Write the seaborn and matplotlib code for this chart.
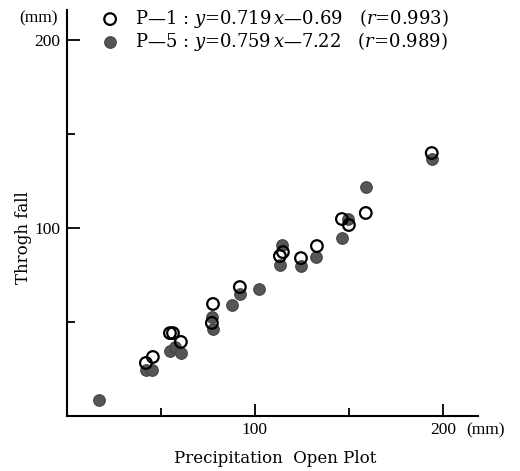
import pandas as pd
import seaborn as sns
import matplotlib.pyplot as plt

# P-1 (open circles)
p1_open = [42.0, 45.7, 54.8, 56.4, 60.6, 77.7, 77.1, 92.0, 114.9, 113.3,
           124.5, 133.0, 146.3, 150.0, 159.0, 194.1]
p1_through = [28.2, 31.4, 44.1, 44.1, 39.4, 59.6, 49.5, 68.6, 87.2, 85.1,
              84.0, 90.4, 104.8, 101.6, 108.0, 139.9]

# P-5 (filled circles)
p5_open = [17.0, 42.0, 45.2, 54.8, 57.4, 60.6, 77.1, 77.7, 87.8, 92.0,
           102.1, 114.4, 113.3, 124.5, 132.4, 149.5, 146.3, 159.0, 194.1]
p5_through = [8.5, 24.5, 24.5, 34.6, 36.7, 33.5, 52.7, 46.3, 59.0, 64.9,
              67.6, 91.0, 80.3, 79.8, 84.6, 104.8, 94.7, 121.8, 136.7]

labels = [r"P—1 : $y$=0.719$\,x$—0.69   ($r$=0.993)",
          r"P—5 : $y$=0.759$\,x$—7.22   ($r$=0.989)"]

major_ticks = [100, 200]
minor_ticks = [50, 150]

sns.set_style("white")
plt.rcParams["font.family"] = ["DejaVu Serif"]
plt.rcParams["mathtext.fontset"] = "dejavuserif"
plt.rcParams["text.color"] = "black"
plt.rcParams["axes.labelcolor"] = "black"
num_font = "Liberation Serif"

p1_df = pd.DataFrame({"open": p1_open, "through": p1_through})
p5_df = pd.DataFrame({"open": p5_open, "through": p5_through})

fig = plt.figure(figsize=(5.2, 4.71), dpi=100)
ax = fig.add_axes([0.1288, 0.1168, 0.790, 0.862])

sns.scatterplot(data=p5_df, x="open", y="through", ax=ax, s=70,
                color="#555555", edgecolor="#444444", linewidth=0.8,
                label=labels[1], zorder=3)
sns.scatterplot(data=p1_df, x="open", y="through", ax=ax, s=70,
                facecolor="none", edgecolor="black", linewidth=1.6,
                label=labels[0], zorder=4)

ax.set_xlim(0, 218.6)
ax.set_ylim(0, 216)
for side in ["top", "right"]:
    ax.spines[side].set_visible(False)
for side in ["left", "bottom"]:
    ax.spines[side].set_color("black")
    ax.spines[side].set_linewidth(1.5)

ax.set_xticks(major_ticks)
ax.set_yticks(major_ticks)
ax.set_xticks(minor_ticks, minor=True)
ax.set_yticks(minor_ticks, minor=True)
ax.tick_params(which="both", bottom=True, left=True, direction="in",
               width=1.3, colors="black")
ax.tick_params(which="major", length=9, pad=4)
ax.tick_params(which="minor", length=6)
ax.tick_params(axis="y", which="major", pad=5)
for lbl in ax.get_xticklabels() + ax.get_yticklabels():
    lbl.set_fontfamily(num_font)
    lbl.set_fontsize(12.5)

ax.set_xlabel("Precipitation  Open Plot", fontsize=12)
ax.set_ylabel("Throgh fall", fontsize=12)
ax.xaxis.set_label_coords(0.506, -0.085)
ax.yaxis.set_label_coords(-0.086, 0.44)
ax.text(0.973, -0.0345, "(mm)", transform=ax.transAxes, fontsize=12.5,
        family=num_font, ha="left", va="center")
ax.text(-0.022, 0.98, "(mm)", transform=ax.transAxes, fontsize=12.5,
        family=num_font, ha="right", va="center")

handles, _ = ax.get_legend_handles_labels()
ax.legend([handles[1], handles[0]], labels, loc="upper left",
          bbox_to_anchor=(0.164, 1.02), bbox_transform=fig.transFigure,
          frameon=False, fontsize=13, handletextpad=0.9,
          labelspacing=0.02, handlelength=0.95)

plt.savefig("out.png", dpi=100)
